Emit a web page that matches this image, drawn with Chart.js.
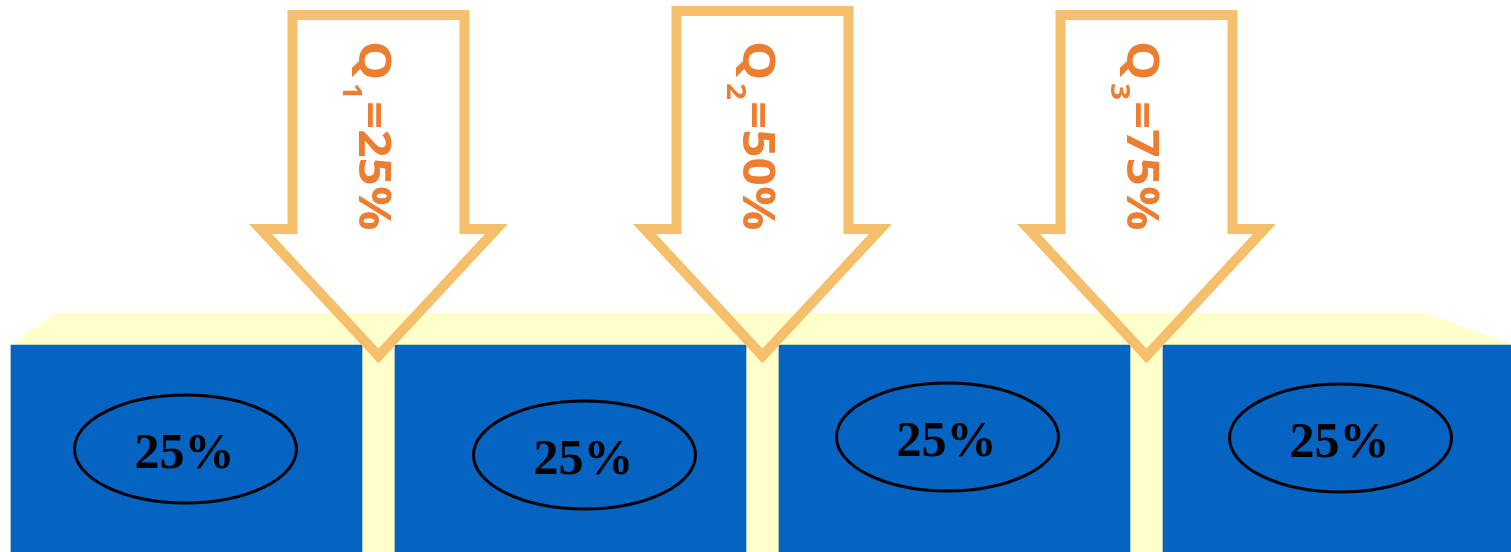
<!DOCTYPE html>
<html>
<head>
<meta charset="utf-8">
<title>Cuartiles</title>
<script src="https://cdn.jsdelivr.net/npm/chart.js@4.4.0/dist/chart.umd.min.js"></script>
<style>
  html, body { margin: 0; padding: 0; background: #fff; }
  canvas { display: block; }
</style>
</head>
<body>
<canvas id="myChart" width="1511" height="552"></canvas>
<script>
// each quarter of the ordered data
const shares = [25, 25, 25, 25];
const shareLabels = ['25%', '25%', '25%', '25%'];
// quartile cut points
const cuts = [25, 50, 75];
const cutSubs = ['1', '2', '3'];
const cutTexts = ['=25%', '=50%', '=75%'];

// layout bits: ellipse center offset from the bar top, arrow top edge
const badgeShift = [[-1, 104], [14, 110], [-7, 92], [2, 93]];
const arrowTop = [15, 11, 15];

// bar sits in the middle of its quarter
let centers = [];
let acc = 0;
for (let i = 0; i < shares.length; i++) {
    centers.push(acc + shares[i] / 2);
    acc += shares[i];
}

const platform = {
    id: 'platform',
    beforeDatasetsDraw(chart) {
        const ctx = chart.ctx;
        const bars = chart.getDatasetMeta(0).data;
        const first = bars[0];
        const last = bars[bars.length - 1];
        const left = first.x - first.width / 2;
        const right = last.x + last.width / 2;
        const top = first.y;
        const bottom = chart.chartArea.bottom;
        ctx.save();
        ctx.fillStyle = '#FFFFCC';
        ctx.beginPath();
        ctx.moveTo(left, bottom);
        ctx.lineTo(left, top);
        ctx.lineTo(left + 44, top - 32);
        ctx.lineTo(right - 89, top - 32);
        ctx.lineTo(right, top);
        ctx.lineTo(right, bottom);
        ctx.closePath();
        ctx.fill();
        ctx.restore();
    }
};

const badges = {
    id: 'badges',
    afterDatasetsDraw(chart) {
        const ctx = chart.ctx;
        const bars = chart.getDatasetMeta(0).data;
        ctx.save();
        bars.forEach((bar, i) => {
            let cx = bar.x + badgeShift[i][0];
            let cy = bar.y + badgeShift[i][1];
            ctx.beginPath();
            ctx.ellipse(cx, cy, 111, 54, 0, 0, 2 * Math.PI);
            ctx.lineWidth = 3;
            ctx.strokeStyle = '#000';
            ctx.stroke();
            ctx.fillStyle = '#000';
            ctx.font = 'bold 50px "Liberation Serif"';
            ctx.textAlign = 'center';
            ctx.textBaseline = 'alphabetic';
            ctx.fillText(shareLabels[i], cx - 1, cy + 19);
        });
        ctx.restore();
    }
};

// draws one piece of the rotated label, stretched a little along the text
function stretchedText(ctx, txt, px, py, font) {
    ctx.save();
    ctx.translate(px, py);
    ctx.scale(1.1, 1);
    ctx.font = font;
    ctx.fillText(txt, 0, 0);
    ctx.restore();
}

const arrows = {
    id: 'arrows',
    afterDraw(chart) {
        const ctx = chart.ctx;
        const xs = chart.scales.x;
        cuts.forEach((q, i) => {
            const cx = xs.getPixelForValue(q);
            const t = arrowTop[i];
            ctx.save();
            ctx.beginPath();
            ctx.moveTo(cx - 86, t);
            ctx.lineTo(cx + 86, t);
            ctx.lineTo(cx + 86, 229);
            ctx.lineTo(cx + 118, 229);
            ctx.lineTo(cx, 356);
            ctx.lineTo(cx - 118, 229);
            ctx.lineTo(cx - 86, 229);
            ctx.closePath();
            ctx.lineWidth = 10;
            ctx.lineJoin = 'miter';
            ctx.strokeStyle = '#F5BF6B';
            ctx.stroke();

            // Q with subscript, reading downwards
            ctx.translate(cx - 19, 41);
            ctx.rotate(Math.PI / 2);
            ctx.fillStyle = '#ED7D31';
            ctx.textAlign = 'left';
            ctx.textBaseline = 'alphabetic';
            stretchedText(ctx, 'Q', 0, 0, 'bold 45px "Open Sans"');
            stretchedText(ctx, cutSubs[i], 42, 16, 'bold 27px "Open Sans"');
            stretchedText(ctx, cutTexts[i], 60, 0, 'bold 45px "Open Sans"');
            ctx.restore();
        });
    }
};

var ctx = document.getElementById('myChart').getContext('2d');
var chart = new Chart(ctx, {
    type: 'bar',
    data: {
        datasets: [{
            data: centers.map((c, i) => ({ x: c, y: shares[i] })),
            backgroundColor: '#0563C1',
            borderWidth: 0,
            barThickness: 351
        }]
    },
    options: {
        responsive: false,
        animation: false,
        layout: { padding: 0 },
        plugins: {
            legend: { display: false },
            tooltip: { enabled: false }
        },
        scales: {
            x: { type: 'linear', min: 0.36, max: 98.73, offset: false, display: false },
            y: { min: 0, max: 66.67, display: false }
        }
    },
    plugins: [platform, badges, arrows]
});
</script>
</body>
</html>
